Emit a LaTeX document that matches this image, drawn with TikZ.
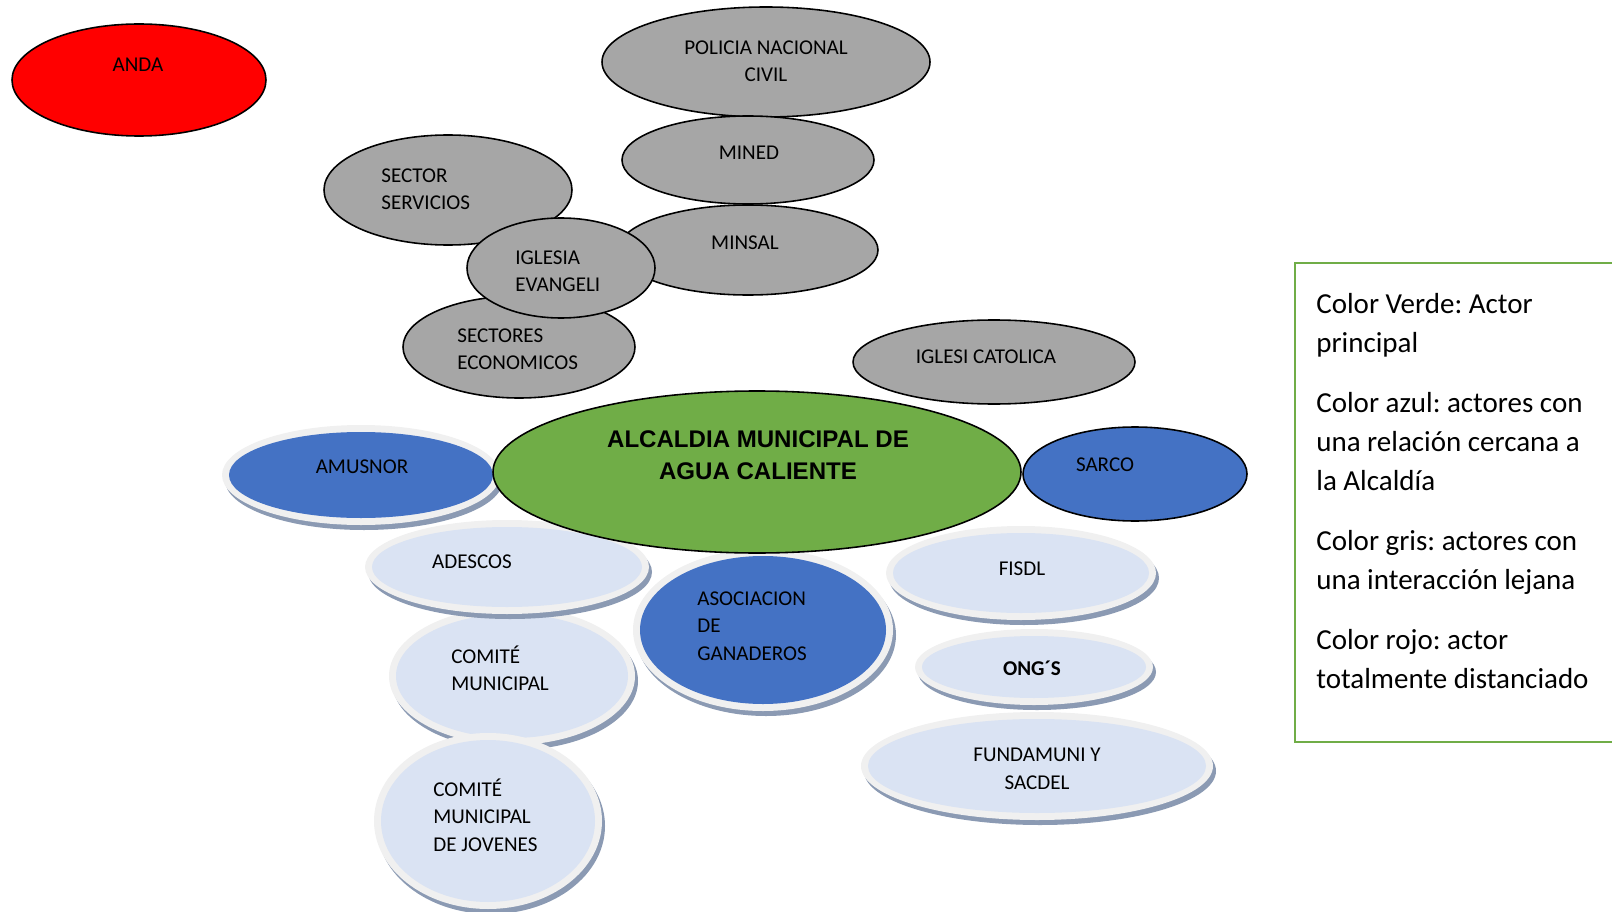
\documentclass[tikz,border=0pt]{standalone}
\usepackage{fontspec}
\setmainfont{Carlito}
\newfontfamily\arialfont{Liberation Sans}
\usepackage{xcolor}
\usepackage{tikz}
\frenchspacing

\definecolor{gris}{HTML}{A6A6A6}
\definecolor{rojo}{HTML}{FF0000}
\definecolor{verde}{HTML}{70AD47}
\definecolor{azul}{HTML}{4472C4}
\definecolor{celeste}{HTML}{DAE3F3}
\definecolor{borde}{HTML}{F0F0F0}
\definecolor{sombra}{HTML}{8B9AB3}

% ellipse with light rim and drop shadow: x, y, rx, ry, fill
\newcommand{\bisel}[5]{%
  \fill[sombra] (#1+3, #2+5) ellipse (#3+7 and #4+7);
  \fill[borde] (#1, #2) ellipse (#3+7 and #4+7);
  \fill[#5] (#1, #2) ellipse (#3 and #4);
}

\begin{document}
\begin{tikzpicture}[x=0.02cm, y=-0.02cm,
    actor/.style={draw=black, line width=0.9pt},
    lbl/.style={inner sep=0pt, font=\fontsize{12}{15.6}\selectfont},
    lblw/.style={lbl, anchor=west, align=left},
    lblc/.style={lbl, align=center}]
  \useasboundingbox (0, 0) rectangle (1612, 912);

  % Distant actor
  \draw[actor, fill=rojo] (139, 80) ellipse (127 and 56);
  \node[lblc] (anda) at (138, 65) {ANDA};

  % Grey actors
  \draw[actor, fill=gris] (766, 62) ellipse (164 and 55);
  \node[lblc] (pnc) at (766, 61) {POLICIA NACIONAL\\CIVIL};
  \draw[actor, fill=gris] (748, 160) ellipse (126 and 44);
  \node[lblc] (mined) at (749, 153) {MINED};
  \draw[actor, fill=gris] (448, 190) ellipse (124 and 55);
  \node[lblw] (servicios) at (381, 189) {SECTOR\\SERVICIOS};
  \draw[actor, fill=gris] (519, 347) ellipse (116 and 51);
  \node[lblw] (economicos) at (457, 349) {SECTORES\\ECONOMICOS};
  \draw[actor, fill=gris] (748, 250) ellipse (130 and 45);
  \node[lblc] (minsal) at (745, 243) {MINSAL};
  \draw[actor, fill=gris] (561, 268) ellipse (94 and 50);
  \node[lblw] (evangelica) at (515, 271) {IGLESIA\\EVANGELI};
  \draw[actor, fill=gris] (994, 362) ellipse (141 and 42);
  \node[lblc] (catolica) at (986, 357) {IGLESI CATOLICA};

  % Close actors
  \bisel{361}{475}{132}{43}{azul}
  \node[lblc] (amusnor) at (362, 467) {AMUSNOR};
  \bisel{512}{676}{116}{62}{celeste}
  \node[lblw] (comite) at (451, 668) {COMITÉ\\MUNICIPAL};
  \bisel{507}{567}{135}{40}{celeste}
  \node[lblc] (adescos) at (472, 562) {ADESCOS};
  \bisel{488}{821}{107}{81}{celeste}
  \node[lblw] (jovenes) at (433, 815) {COMITÉ\\MUNICIPAL\\DE JOVENES};
  \bisel{763}{630}{123}{74}{azul}
  \node[lblw] (ganaderos) at (697, 626) {ASOCIACION\\DE\\GANADEROS};
  \bisel{1021}{573}{128}{40}{celeste}
  \node[lblc] (fisdl) at (1022, 569) {FISDL};
  \bisel{1034}{667}{112}{31}{celeste}
  \node[lblc, font=\fontsize{12}{15.6}\selectfont\bfseries] (ongs) at (1032, 668) {ONG´S};
  \bisel{1037}{766}{169}{47}{celeste}
  \node[lblc] (fundamuni) at (1037, 769) {FUNDAMUNI Y\\SACDEL};

  % Main actor
  \draw[actor, fill=verde] (757, 472) ellipse (264 and 81);
  \node[lblc, font=\arialfont\bfseries\fontsize{13.7}{18.2}\selectfont] (alcaldia) at (758, 455)
    {ALCALDIA MUNICIPAL DE\\AGUA CALIENTE};
  \draw[actor, fill=azul] (1135, 474) ellipse (112 and 47);
  \node[lblc] (sarco) at (1105, 465) {SARCO};

  % Legend
  \draw[verde, line width=1.4pt] (1295, 263) rectangle (1630, 742);
  \node[anchor=north west, align=left, inner sep=0pt,
        font=\fontsize{16.5}{22.2}\selectfont] (leyenda) at (1316, 293)
    {Color Verde: Actor\\principal\\[12pt]
     Color azul: actores con\\una relación cercana a\\la Alcaldía\\[12pt]
     Color gris: actores con\\una interacción lejana\\[12pt]
     Color rojo: actor\\totalmente distanciado};
\end{tikzpicture}
\end{document}
